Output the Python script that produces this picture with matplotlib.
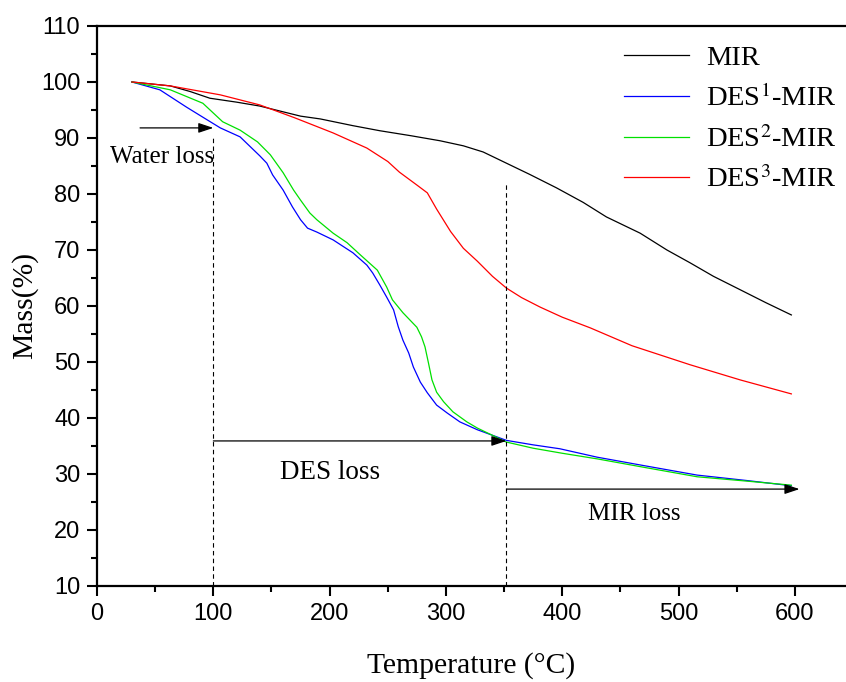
import matplotlib
matplotlib.use("Agg")
import matplotlib.pyplot as plt

plt.rcParams["font.family"] = "Liberation Serif"
plt.rcParams["mathtext.fontset"] = "stix"

# TGA data (temperature in °C, mass in %)
mir_t = [30, 63, 80, 97, 120, 140, 175, 192, 220, 243, 270, 295, 315, 332, 352, 372, 395, 418, 438,
         467, 490, 510, 530, 553, 575, 597]
mir_m = [100, 99.3, 98.3, 97.1, 96.4, 95.7, 93.9, 93.4, 92.2, 91.3, 90.4, 89.5, 88.6, 87.5, 85.5, 83.5,
         81.1, 78.5, 75.9, 73.0, 70.0, 67.7, 65.3, 62.9, 60.6, 58.4]

des1_t = [30, 54, 77, 95, 106, 123, 140, 146, 151, 160, 168, 175, 181, 189, 203, 220, 232, 237, 243,
          249, 255, 259, 263, 268, 272, 278, 284, 292, 301, 312, 327, 352, 375, 398, 430, 470, 516,
          560, 597]
des1_m = [100, 98.6, 95.5, 93.2, 91.8, 90.2, 86.8, 85.5, 83.4, 80.7, 77.7, 75.4, 73.9, 73.2, 71.8,
          69.5, 67.3, 65.9, 63.8, 61.6, 59.3, 56.3, 53.9, 51.6, 49.1, 46.4, 44.5, 42.3, 40.9, 39.3,
          37.9, 36.0, 35.2, 34.5, 33.0, 31.5, 29.8, 28.8, 27.9]

des2_t = [30, 63, 91, 108, 123, 138, 149, 160, 169, 175, 183, 189, 203, 215, 226, 241, 249, 254, 263,
          269, 275, 279, 282, 285, 288, 292, 298, 306, 318, 327, 352, 375, 400, 430, 470, 516, 560,
          597]
des2_m = [100, 98.6, 96.2, 92.9, 91.4, 89.3, 87.0, 83.8, 80.7, 78.9, 76.6, 75.4, 73.0, 71.3, 69.2,
          66.4, 63.4, 61.1, 58.8, 57.5, 56.2, 54.5, 52.7, 49.8, 46.8, 44.6, 42.9, 41.1, 39.3, 38.2,
          35.7, 34.6, 33.7, 32.7, 31.2, 29.5, 28.7, 28.0]

des3_t = [30, 63, 106, 140, 170, 192, 203, 232, 250, 260, 275, 284, 292, 304, 315, 327, 340, 352,
          365, 381, 400, 424, 460, 510, 553, 597]
des3_m = [100, 99.3, 97.7, 95.9, 93.6, 91.8, 90.9, 88.2, 85.8, 83.9, 81.6, 80.2, 77.3, 73.3, 70.3,
          68.0, 65.3, 63.2, 61.5, 59.8, 58.0, 56.1, 52.9, 49.5, 46.8, 44.3]

labels = ["MIR", "DES$^1$-MIR", "DES$^2$-MIR", "DES$^3$-MIR"]
colors = ["black", "#0000ff", "#00e000", "#ff0000"]

fig = plt.figure(figsize=(8.46, 6.82), dpi=100)
ax = fig.add_axes([0.1147, 0.1408, 0.8853, 0.8211])

for t, m, lab, c in zip([mir_t, des1_t, des2_t, des3_t], [mir_m, des1_m, des2_m, des3_m], labels, colors):
    ax.plot(t, m, color=c, lw=0.9, label=lab, solid_joinstyle="round")

# stage boundaries
ax.plot([100, 100], [10, 90.5], color="black", lw=0.8, ls=(0, (4, 3)))
ax.plot([352, 352], [10, 82], color="black", lw=0.8, ls=(0, (4, 3)))

arrow = dict(arrowstyle="-|>,head_length=0.9,head_width=0.3", color="black", lw=0.9, shrinkA=0, shrinkB=0)
ax.annotate("", xy=(100, 91.8), xytext=(37, 91.8), arrowprops=arrow)
ax.annotate("", xy=(352, 35.9), xytext=(100, 35.9), arrowprops=arrow)
ax.annotate("", xy=(604, 27.3), xytext=(352, 27.3), arrowprops=arrow)
ax.text(56, 86.6, "Water loss", fontsize=18, ha="center", va="center")
ax.text(200, 30.2, "DES loss", fontsize=19.5, ha="center", va="center")
ax.text(462, 22.9, "MIR loss", fontsize=18, ha="center", va="center")

ax.set_xlim(0, 644)
ax.set_ylim(10, 110)
ax.set_xticks(range(0, 601, 100))
ax.set_xticks(range(50, 601, 100), minor=True)
ax.set_yticks(range(10, 111, 10))
ax.set_yticks(range(15, 110, 10), minor=True)
ax.tick_params(which="major", direction="out", length=7, width=1.5, labelsize=17, pad=5)
ax.tick_params(which="minor", direction="out", length=4.5, width=1.5)
for lab in ax.get_xticklabels() + ax.get_yticklabels():
    lab.set_fontfamily("Liberation Sans")
for s in ["left", "bottom", "top"]:
    ax.spines[s].set_linewidth(1.6)
ax.spines["right"].set_visible(False)

ax.set_xlabel("Temperature (°C)", fontsize=21.3, labelpad=20)
ax.set_ylabel("Mass(%)", fontsize=21.3, labelpad=2)

ax.legend(loc="upper right", bbox_to_anchor=(1.022, 1.012), frameon=False, fontsize=20.5,
          handlelength=2.3, handletextpad=0.6, labelspacing=0.48)

fig.savefig("out.png", dpi=100)
